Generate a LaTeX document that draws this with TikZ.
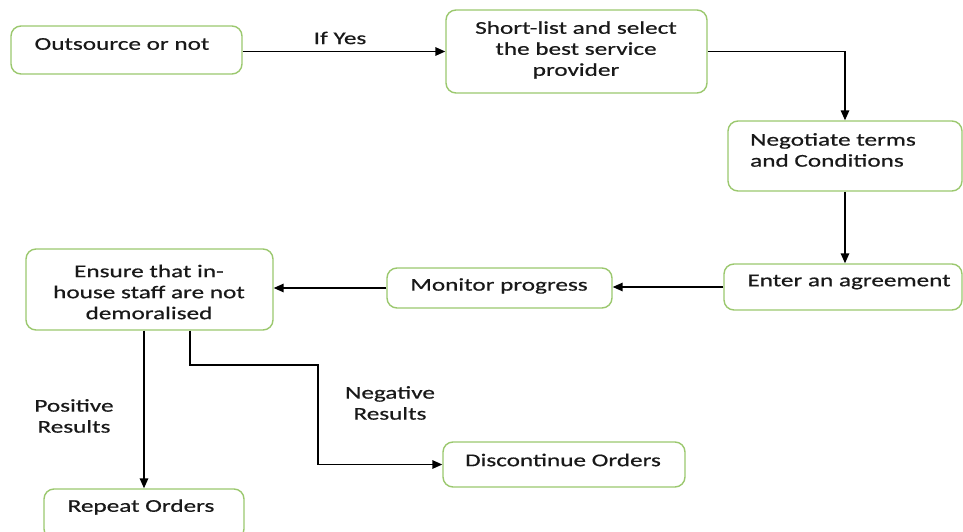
\documentclass[tikz,border=0pt]{standalone}
\usepackage{fontspec}
\setmainfont[FakeStretch=1.4, FakeBold=0.6]{Carlito}
\usetikzlibrary{arrows.meta}

\definecolor{boxgreen}{RGB}{155,200,110}
\definecolor{ink}{RGB}{25,25,25}

\begin{document}
\begin{tikzpicture}[
    x=1pt, y=-1pt,
    box/.style={draw=boxgreen, line width=1.4pt, rounded corners=10pt,
        fill=white, inner sep=0pt},
    txt/.style={text=ink, font=\fontsize{18}{21}\selectfont,
        inner sep=0pt, align=center},
    flow/.style={line width=1.5pt, -{Triangle[length=10pt,width=8.5pt]}}
]
    \useasboundingbox (0,0) rectangle (963,532);

    % boxes
    \node[box, minimum width=231, minimum height=48] (outsrc) at (126.5,50) {};
    \node[box, minimum width=261, minimum height=83] (select) at (576.5,51.5) {};
    \node[box, minimum width=234, minimum height=70] (negot) at (845,156) {};
    \node[box, minimum width=238, minimum height=46] (agree) at (843,287) {};
    \node[box, minimum width=225, minimum height=40] (monitor) at (499.5,288) {};
    \node[box, minimum width=247, minimum height=81] (ensure) at (149.5,289.5) {};
    \node[box, minimum width=200, minimum height=50] (repeat) at (144,514) {};
    \node[box, minimum width=242, minimum height=45] (discont) at (564,464.5) {};

    % texts
    \node[txt] (outsrc-t) at (122,44) {Outsource or not};
    \node[txt] (select-t) at (576,50) {Short-list and select\\the best service\\provider};
    \node[txt, align=left, anchor=west] (negot-t) at (750,150) {Negotiate terms\\and Conditions};
    \node[txt] (agree-t) at (849,282) {Enter an agreement};
    \node[txt] (monitor-t) at (499,286) {Monitor progress};
    \node[txt] (ensure-t) at (149,292) {Ensure that in-\\house staff are not\\demoralised};
    \node[txt] (repeat-t) at (141,507) {Repeat Orders};
    \node[txt] (discont-t) at (563,460) {Discontinue Orders};

    % labels
    \node[txt] (yes) at (340,38) {If Yes};
    \node[txt] (pos) at (74,416) {Positive\\Results};
    \node[txt] (neg) at (390,403) {Negative\\Results};

    % connectors
    \coordinate (bend) at (318,365);
    \draw[flow] ([yshift=-1.5pt]outsrc.east) -- ([yshift=-1.5pt]outsrc.east -| select.west);
    \draw[flow] (select.east) -| (negot.north);
    \draw[flow] (negot.south) -- (negot.south |- agree.north);
    \draw[flow] (agree.west) -- (agree.west -| monitor.east);
    \draw[flow] (monitor.west) -- (monitor.west -| ensure.east);
    \draw[flow] (repeat.north |- ensure.south) -- (repeat.north);
    \draw[flow] ([xshift=40.5pt]ensure.south) |- (bend) |- (discont.west);
\end{tikzpicture}
\end{document}
